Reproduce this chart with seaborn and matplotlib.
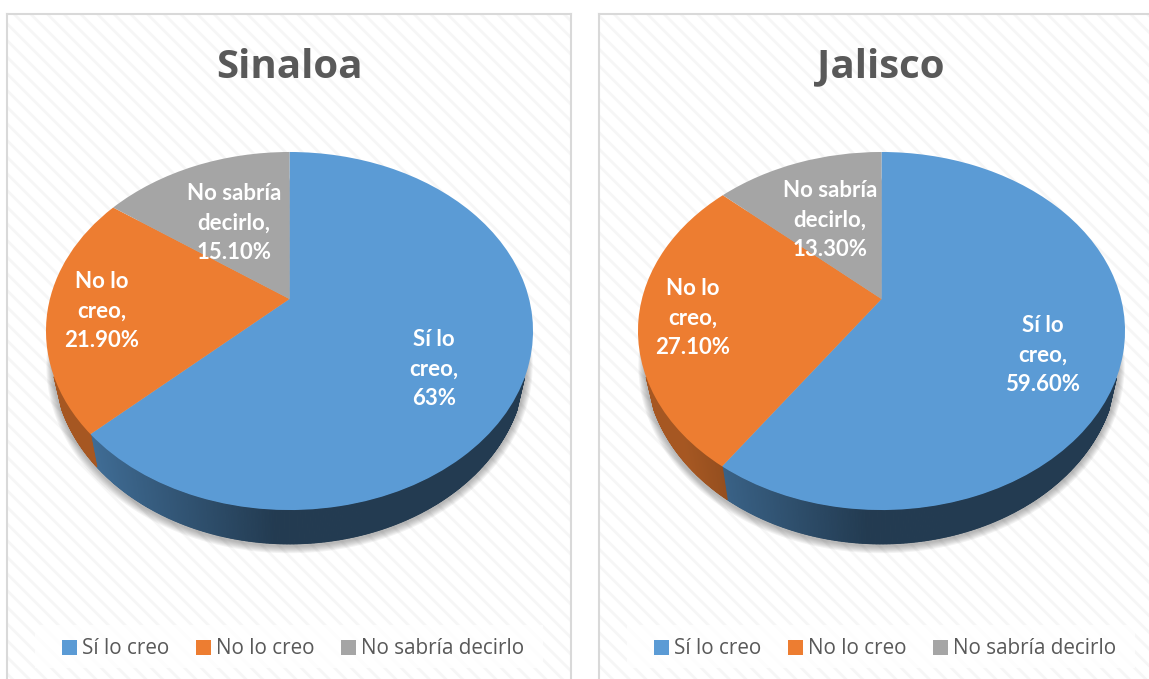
# -*- coding: utf-8 -*-
import numpy as np
import matplotlib
matplotlib.use('Agg')
import matplotlib.pyplot as plt
import seaborn as sns
from matplotlib.collections import PolyCollection
from matplotlib.patches import Rectangle
from matplotlib.transforms import Transform

sns.set_theme(style='white')
plt.rcParams['font.family'] = ['Open Sans', 'DejaVu Sans']
plt.rcParams['hatch.linewidth'] = 2.0

categories = ['Sí lo creo', 'No lo creo', 'No sabría decirlo']
sinaloa = [63.0, 21.9, 15.1]
jalisco = [59.6, 27.1, 13.3]
sinaloa_labels = ['Sí lo\ncreo,\n63%', 'No lo\ncreo,\n21.90%', 'No sabría\ndecirlo,\n15.10%']
jalisco_labels = ['Sí lo\ncreo,\n59.60%', 'No lo\ncreo,\n27.10%', 'No sabría\ndecirlo,\n13.30%']
colors = sns.color_palette(['#5B9BD5', '#ED7D31', '#A5A5A5'])

GREY_TEXT = '#595959'
K = 0.1788  # how strong the tilt of the pie looks


def project(x, y, cx, cy, a, b):
    # unit circle to picture pixels, the far side gets squeezed
    w = 1 + K * y
    return cx + a * x / w, cy - b * y / w


class Tilt(Transform):
    input_dims = 2
    output_dims = 2

    def __init__(self, cx, cy, a, b):
        super().__init__()
        self.cx, self.cy, self.a, self.b = cx, cy, a, b

    def transform_non_affine(self, values):
        values = np.asarray(values)
        px, py = project(values[:, 0], values[:, 1], self.cx, self.cy, self.a, self.b)
        return np.column_stack([px, py])


def draw_panel(ax, title, values, labels, left, cx, label_pos):
    cy = 299
    top = (cx, cy, 239.6, 173.3)
    bottom = (cx, cy + 30.5, 232, 176)

    wedges, _ = ax.pie(values, colors=colors, startangle=90, counterclock=False)
    ax.set_aspect('auto')
    ax.set_xlim(left, left + 564)
    ax.set_ylim(700, 14)
    ax.set_frame_on(True)

    ax.patch.set(facecolor='white', edgecolor='#f6f6f6', hatch='\\\\', linewidth=0)
    for name in ['left', 'right', 'top', 'bottom']:
        ax.spines[name].set_visible(True)
        ax.spines[name].set_color('#d9d9d9')
        ax.spines[name].set_linewidth(1.5)

    # soft shadow under the pie
    t = np.linspace(0, 2 * np.pi, 240)
    for i in range(7):
        grow = 1.03 - i * 0.004
        sx, sy = project(np.sin(t) * grow, np.cos(t) * grow, cx, cy + 32, 232, 176)
        ax.fill(sx, sy, color='#555555', alpha=0.07, lw=0, zorder=1)

    # side wall, one thin strip at a time, front part only
    quads, quad_colors = [], []
    edges = np.cumsum([0] + list(values)) / sum(values) * 2 * np.pi
    for i in range(len(values)):
        n = max(int((edges[i + 1] - edges[i]) * 200), 2)
        th = np.linspace(edges[i], edges[i + 1], n + 1)
        x, y = np.sin(th), np.cos(th)
        tx, ty = project(x, y, *top)
        bx, by = project(x, y, *bottom)
        for j in range(n):
            if y[j] > -0.42:
                continue
            quads.append([(tx[j], ty[j]), (tx[j + 1], ty[j + 1]), (bx[j + 1], by[j + 1]), (bx[j], by[j])])
            pos = np.clip(((tx[j] + tx[j + 1]) / 2 - cx + 200) / 185, 0, 1)
            quad_colors.append(tuple(np.array(colors[i]) * (0.70 - 0.32 * pos)))
    ax.add_collection(PolyCollection(quads, facecolors=quad_colors, edgecolors=quad_colors,
                                     linewidths=0.8, zorder=2))

    tilt = Tilt(*top) + ax.transData
    for w in wedges:
        w.set_transform(tilt)
        w.set_zorder(3)
        w.set_linewidth(0)

    for lab, (lx, ly) in zip(labels, label_pos):
        ax.text(lx, ly, lab, color='white', ha='center', va='center', fontsize=16,
                fontweight='bold', family='Lato', linespacing=1.5, zorder=4)

    ax.text(left + 282, 67, title, color=GREY_TEXT, ha='center', va='center',
            fontsize=29, fontweight='bold', zorder=4)

    # legend box is wider on the left than the legend's own padding allows
    ax.add_patch(Rectangle((left + 28, 625), 508, 43, facecolor='white', alpha=0.8,
                           edgecolor='none', zorder=4))
    ax.legend(wedges, categories, ncol=3, loc='center', bbox_to_anchor=(left + 286, 649),
              bbox_transform=ax.transData, fontsize=14.9, labelcolor=GREY_TEXT, frameon=False,
              handlelength=0.74, handleheight=0.74, handletextpad=0.22,
              columnspacing=1.3, borderpad=0, borderaxespad=0).set_zorder(5)


fig = plt.figure(figsize=(11.49, 6.79), dpi=100, facecolor='white')
W, H = 1149.0, 679.0

ax1 = fig.add_axes([7 / W, 1 - 700 / H, 564 / W, 686 / H])
ax2 = fig.add_axes([599 / W, 1 - 700 / H, 564 / W, 686 / H])

draw_panel(ax1, 'Sinaloa', sinaloa, sinaloa_labels, 7, 289.5,
           [(434, 369.5), (102, 311.5), (234, 223.5)])
draw_panel(ax2, 'Jalisco', jalisco, jalisco_labels, 599, 881.5,
           [(1043, 355.5), (693, 318.5), (830, 220.5)])

fig.savefig('out.png', dpi=100)
